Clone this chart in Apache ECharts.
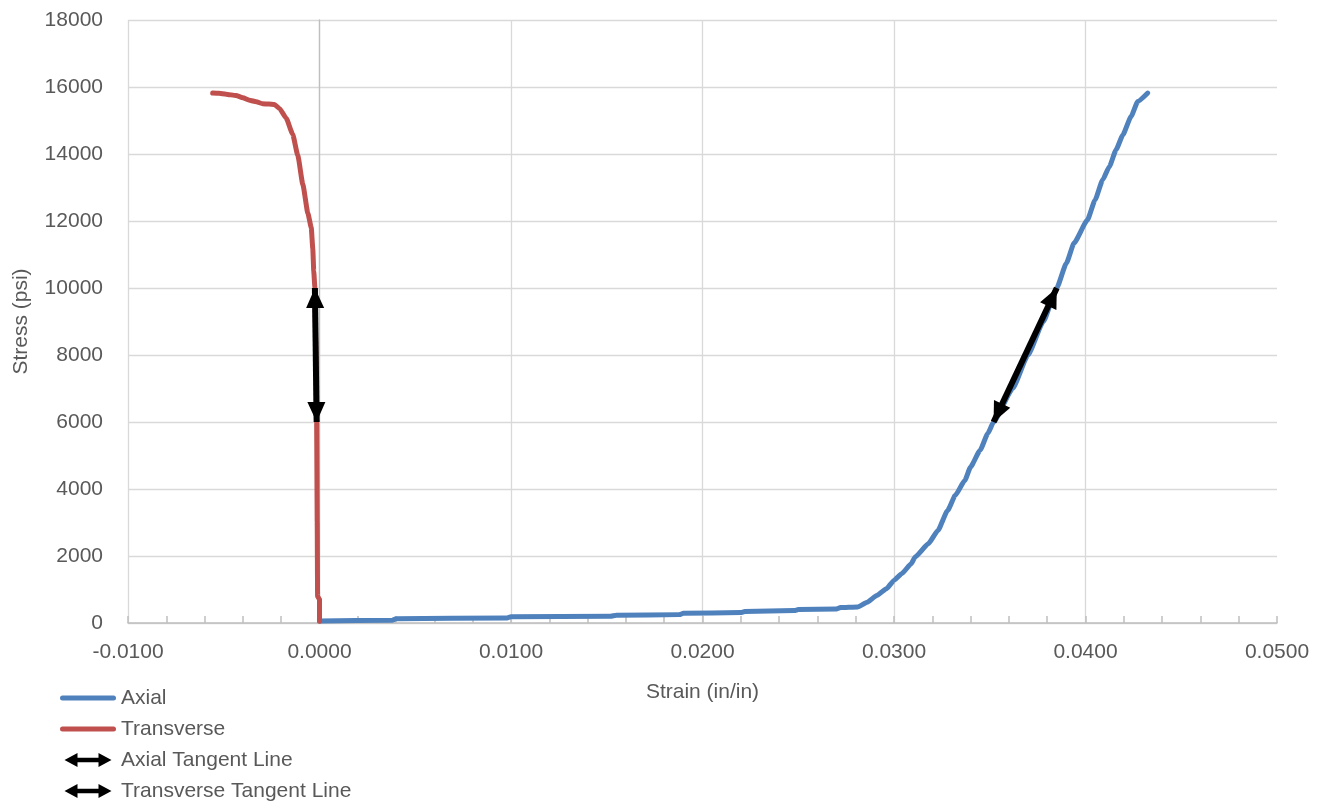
<!DOCTYPE html>
<html><head><meta charset="utf-8">
<script src="https://cdn.jsdelivr.net/npm/echarts@6/dist/echarts.min.js"></script>
<style>html,body{margin:0;padding:0;background:#fff}#c{width:1320px;height:805px}</style>
</head><body><div id="c"></div>
<script>
// Axial curve (strain in/in, stress psi)
const axialStrain = [0.0000,0.0038,0.0040,0.0098,0.0100,0.0152,0.0155,0.0188,0.0190,0.0220,0.0222,0.0248,0.0250,0.0270,0.0272,0.0281,0.0286,0.0291,0.0296,0.0300,0.0304,0.0309,0.0311,0.0318,0.0323,0.0328,0.0332,0.0337,0.0340,0.0345,0.0349,0.0352,0.0362,0.0370,0.0378,0.0385,0.0390,0.0394,0.0401,0.0405,0.0409,0.04125,0.0416,0.04195,0.04238,0.04273,0.04325];
const axialStress = [60,80,130,150,190,200,230,250,290,310,340,370,400,420,460,480,620,820,1020,1270,1470,1770,1970,2370,2770,3360,3810,4260,4660,5160,5660,6000,7000,8000,9000,10000,10740,11340,12030,12630,13230,13630,14130,14570,15120,15570,15820];
// Transverse curve
const transStrain = [0.0000,0.0000,-0.00010,-0.00012,-0.00015,-0.00019,-0.00024,-0.00030,-0.00035,-0.00043,-0.00061,-0.00087,-0.00113,-0.00140,-0.00174,-0.00209,-0.00235,-0.00265,-0.00297,-0.00330,-0.00366,-0.00400,-0.00436,-0.00488,-0.00525,-0.00558];
const transStress = [50,700,800,3000,6000,8000,10000,10500,11170,11800,12240,13090,13950,14590,15070,15360,15476,15490,15500,15560,15605,15680,15743,15786,15810,15818];
// Tangent lines [strain, stress] endpoints
const axialTangent = [[0.0352, 6000], [0.0385, 10000]];
const transTangent = [[-0.00015, 6000], [-0.00024, 10000]];
// Axis ticks
const xTicks = {min: -0.01, max: 0.05, interval: 0.01};
const yTicks = {min: 0, max: 18000, interval: 2000};

const FONT = 'Liberation Sans';
const TXT = '#595959';
const arrowIcon = 'path://M0,7 L13,0 L13,4.8 L34,4.8 L34,0 L47,7 L34,14 L34,9.2 L13,9.2 L13,14 Z';
const lineIcon = 'path://M2.5,0 L53.5,0 A2.5,2.5 0 0 1 53.5,5 L2.5,5 A2.5,2.5 0 0 1 2.5,0 Z';
// arrow head whose tip sits at the symbol centre (invisible point above keeps bbox symmetric)
const headSymbol = 'path://M0,-20 L0,-20 M0,0 L9,20 L-9,20 Z';

function zip(a, b) { return a.map((v, i) => [v, b[i]]); }
function tangentSeries(name, pts) {
  return {
    name: name, type: 'line', data: [], symbol: 'none',
    itemStyle: {color: '#000'}, lineStyle: {color: '#000', width: 6},
    markLine: {
      silent: true, symbol: [headSymbol, headSymbol], symbolSize: [18, 40],
      label: {show: false},
      itemStyle: {color: '#000'},
      lineStyle: {color: '#000', width: 6, type: 'solid'},
      emphasis: {disabled: true},
      data: [[{coord: pts[0]}, {coord: pts[1]}]]
    },
    z: 5
  };
}

const chart = echarts.init(document.getElementById('c'), null, {renderer: 'canvas'});
chart.setOption({
  animation: false,
  backgroundColor: '#fff',
  textStyle: {fontFamily: FONT},
  grid: {left: 128, top: 20, width: 1149, height: 603, containLabel: false},
  xAxis: {
    type: 'value', min: xTicks.min, max: xTicks.max, interval: xTicks.interval,
    name: 'Strain (in/in)', nameLocation: 'middle', nameGap: 59,
    nameTextStyle: {fontFamily: FONT, fontSize: 21, color: TXT},
    axisLine: {show: true, onZero: false, lineStyle: {color: '#bfbfbf', width: 1.5}},
    axisTick: {show: true, inside: true, length: 7, lineStyle: {color: '#bfbfbf', width: 1.5}},
    minorTick: {show: true, splitNumber: 5, length: 7, lineStyle: {color: '#bfbfbf', width: 1.5}},
    splitLine: {show: true, showMaxLine: false, lineStyle: {color: '#d9d9d9', width: 1.3}},
    axisLabel: {fontFamily: FONT, fontSize: 21, color: TXT, margin: 19,
      formatter: v => v.toFixed(4)}
  },
  yAxis: {
    type: 'value', min: yTicks.min, max: yTicks.max, interval: yTicks.interval,
    name: 'Stress (psi)', nameLocation: 'middle', nameGap: 96, nameRotate: 90,
    nameTextStyle: {fontFamily: FONT, fontSize: 21, color: TXT},
    axisLine: {show: true, lineStyle: {color: '#bfbfbf', width: 1.3}},
    axisTick: {show: false},
    splitLine: {show: true, lineStyle: {color: '#d9d9d9', width: 1.3}},
    axisLabel: {fontFamily: FONT, fontSize: 21, color: TXT, margin: 25,
      formatter: v => String(v)}
  },
  legend: {
    orient: 'vertical', left: 55, top: 681, height: 140,
    itemWidth: 56, itemHeight: 14, itemGap: 7, itemTextGap: 4,
    textStyle: {fontFamily: FONT, fontSize: 21, color: TXT, lineHeight: 24},
    selectedMode: false,
    data: [
      {name: 'Axial', icon: lineIcon},
      {name: 'Transverse', icon: lineIcon},
      {name: 'Axial Tangent Line', icon: arrowIcon},
      {name: 'Transverse Tangent Line', icon: arrowIcon}
    ]
  },
  series: [
    {name: 'Axial', type: 'line', data: zip(axialStrain, axialStress), showSymbol: false, symbol: 'none',
      smooth: 0.15, smoothMonotone: 'x',
      itemStyle: {color: '#4F81BD'}, lineStyle: {color: '#4F81BD', width: 5, cap: 'round', join: 'round'}, z: 3},
    {name: 'Transverse', type: 'line', data: zip(transStrain, transStress), showSymbol: false, symbol: 'none',
      smooth: 0.15, smoothMonotone: 'x',
      itemStyle: {color: '#C0504D'}, lineStyle: {color: '#C0504D', width: 5, cap: 'round', join: 'round'}, z: 3},
    tangentSeries('Axial Tangent Line', axialTangent),
    tangentSeries('Transverse Tangent Line', transTangent)
  ]
});
</script></body></html>
